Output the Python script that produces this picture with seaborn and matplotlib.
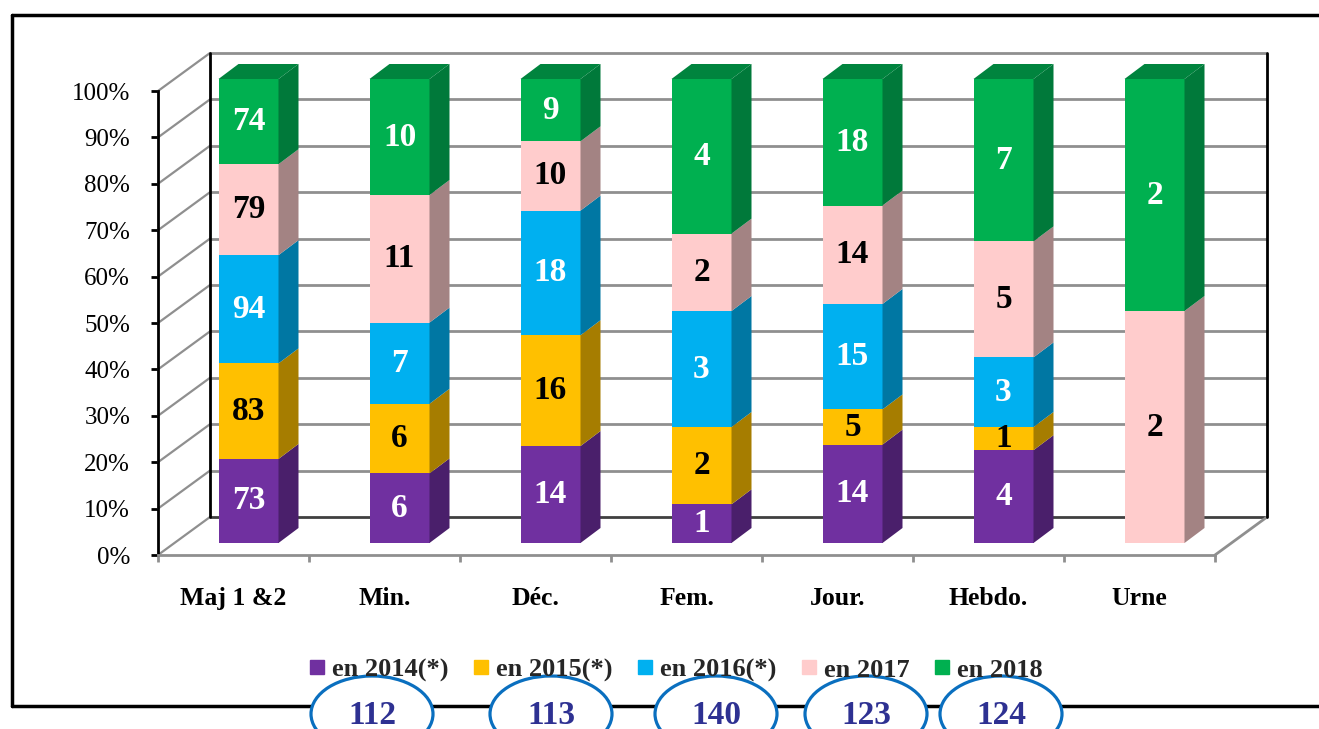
import numpy as np
import pandas as pd
import matplotlib
matplotlib.use("Agg")
import matplotlib.pyplot as plt
import seaborn as sns
from matplotlib.patches import Polygon, Ellipse
from matplotlib.lines import Line2D

# ---------------- data ----------------
categories = ["Maj 1 &2", "Min.", "Déc.", "Fem.", "Jour.", "Hebdo.", "Urne"]
years = ["en 2014(*)", "en 2015(*)", "en 2016(*)", "en 2017", "en 2018"]
v2014 = [73, 6, 14, 1, 14, 4, 0]
v2015 = [83, 6, 16, 2, 5, 1, 0]
v2016 = [94, 7, 18, 3, 15, 3, 0]
v2017 = [79, 11, 10, 2, 14, 5, 2]
v2018 = [74, 10, 9, 4, 18, 7, 2]
yticks = [0, 10, 20, 30, 40, 50, 60, 70, 80, 90, 100]
ytick_labels = [f"{t}%" for t in yticks]

front_colors = ["#7030A0", "#FFC000", "#00B0F0", "#FFCCCC", "#00B050"]
side_colors = ["#4A1F6B", "#A67D00", "#0077A3", "#A38383", "#00793A"]
top_color = "#00843E"
label_colors = ["white", "black", "white", "black", "white"]

vals = np.array([v2014, v2015, v2016, v2017, v2018], dtype=float)
totals_cat = vals.sum(axis=0)
pct = vals / totals_cat * 100
cum_top = np.cumsum(pct, axis=0)
cum_bot = cum_top - pct
year_totals = vals.sum(axis=1).astype(int)

# ---------------- figure ----------------
sns.set_style("white")
plt.rcParams["font.family"] = ["Liberation Serif", "DejaVu Serif"]

W, H = 1319, 729
fig = plt.figure(figsize=(W / 100, H / 100), dpi=100)
ax_w, ax_h = 1057, 464
ax = fig.add_axes([158 / W, (H - 555) / H, ax_w / W, ax_h / H])

# px -> data units
ux = 7.0 / ax_w
uy = 100.0 / ax_h
wall_dx, wall_dy = 52 * ux, 38 * uy      # depth of the chart box
bar_dx, bar_dy = 15 * ux, 12 * uy        # bar front face offset from front plane
dep_dx, dep_dy = 20 * ux, 15 * uy        # bar depth
bw = 60 * ux                              # bar width

# front faces via seaborn (cumulative overlay, top series first)
for i in reversed(range(len(years))):
    df = pd.DataFrame({"cat": categories, "val": cum_top[i]})
    sns.barplot(data=df, x="cat", y="val", order=categories, color=front_colors[i],
                saturation=1, width=bw, ax=ax, errorbar=None, linewidth=0)
for p in ax.patches:
    p.set_x(p.get_x() + bar_dx)
    p.set_y(p.get_y() + bar_dy)
    p.set_clip_on(False)
    p.set_zorder(3)

ax.set_xlim(-0.5, 6.5)
ax.set_ylim(0, 100)
ax.set_xlabel("")
ax.set_ylabel("")

# back wall and side wall
grid_c = "#8f8f8f"
for t in yticks:
    col = "#404040" if t == 0 else grid_c
    ax.plot([-0.5 + wall_dx, 6.5 + wall_dx], [t + wall_dy, t + wall_dy], color=col,
            lw=2, clip_on=False, zorder=0.5, solid_capstyle="butt")
    ax.plot([-0.5, -0.5 + wall_dx], [t, t + wall_dy], color=grid_c, lw=1.6,
            clip_on=False, zorder=0.6)
ax.plot([-0.5 + wall_dx] * 2, [wall_dy, 100 + wall_dy], color="black", lw=2,
        clip_on=False, zorder=0.7)
ax.plot([6.5 + wall_dx] * 2, [wall_dy, 100 + wall_dy], color="black", lw=2,
        clip_on=False, zorder=0.7)
ax.plot([6.5, 6.5 + wall_dx], [0, wall_dy], color=grid_c, lw=2,
        clip_on=False, zorder=0.6)

# side and top faces, labels
for j in range(len(categories)):
    x1 = j + bw / 2 + bar_dx
    x0 = j - bw / 2 + bar_dx
    top_i = None
    for i in range(len(years)):
        if vals[i, j] <= 0:
            continue
        top_i = i
        b = cum_bot[i, j] + bar_dy
        t = cum_top[i, j] + bar_dy
        ax.add_patch(Polygon([(x1, b), (x1 + dep_dx, b + dep_dy), (x1 + dep_dx, t + dep_dy), (x1, t)],
                             closed=True, facecolor=side_colors[i], edgecolor="none",
                             clip_on=False, zorder=3))
        ax.text(j + bar_dx, (b + t) / 2, f"{int(vals[i, j])}", ha="center", va="center",
                fontsize=24, fontweight="bold", color=label_colors[i], zorder=5, clip_on=False)
    t = 100 + bar_dy
    ax.add_patch(Polygon([(x0, t), (x0 + dep_dx, t + dep_dy), (x1 + dep_dx, t + dep_dy), (x1, t)],
                         closed=True, facecolor=top_color if top_i == 4 else side_colors[top_i],
                         edgecolor="none", clip_on=False, zorder=3))

# axes styling
for s in ["top", "right"]:
    ax.spines[s].set_visible(False)
ax.spines["left"].set_color("black")
ax.spines["left"].set_linewidth(2)
ax.spines["left"].set_zorder(1)
ax.spines["bottom"].set_color(grid_c)
ax.spines["bottom"].set_linewidth(2)
ax.spines["bottom"].set_zorder(1)

ax.set_yticks(yticks)
ax.set_yticklabels(ytick_labels)
ax.tick_params(axis="y", left=True, direction="out", length=5, width=2, color="black",
               pad=15, labelsize=18, labelcolor="black")
ax.set_xticks(range(len(categories)))
ax.set_xticklabels(categories, fontsize=18.5, fontweight="bold")
ax.set_xticks(np.arange(-0.5, 7, 1), minor=True)
ax.tick_params(axis="x", which="major", bottom=True, length=0, pad=23, labelcolor="black")
ax.tick_params(axis="x", which="minor", bottom=True, direction="out", length=5, width=2,
               color=grid_c)
ax.grid(False)

# outer frame
fr = dict(color="black", lw=2.5, transform=fig.transFigure, zorder=0)
fig.add_artist(Line2D([12 / W, 1], [1 - 15 / H, 1 - 15 / H], **fr))
fig.add_artist(Line2D([12 / W, 12 / W], [1 - 15 / H, 1 - 706 / H], **fr))
fig.add_artist(Line2D([12 / W, 1], [1 - 706 / H, 1 - 706 / H], **fr))

# legend
handles = [Line2D([], [], marker="s", linestyle="", markersize=10, color=c) for c in front_colors]
fig.legend(handles, years, ncol=5, loc="center", bbox_to_anchor=(676 / W, 1 - 670 / H),
           frameon=False, prop={"weight": "bold", "size": 19, "family": "Liberation Serif"},
           handlelength=0.6, handletextpad=0.25, columnspacing=0.95, borderaxespad=0)

# totals per year in ellipses
ell_x = [372, 551, 716, 866, 1001]
for cx, tot in zip(ell_x, year_totals):
    fig.add_artist(Ellipse((cx / W, 1 - 714 / H), 122 / W, 76 / H, transform=fig.transFigure,
                           facecolor="white", edgecolor="#0A6FBF", lw=2.3, zorder=1))
    fig.text(cx / W, 1 - 716 / H, f"{tot}", ha="center", va="center", fontsize=24,
             fontweight="bold", color="#2E3192", zorder=2)

fig.savefig("out.png", dpi=100, facecolor="white")
